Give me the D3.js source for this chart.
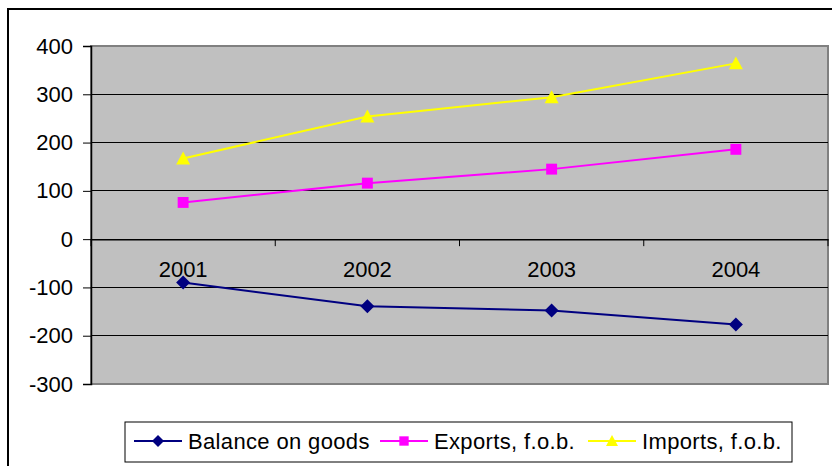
<!DOCTYPE html>
<html><head><meta charset="utf-8">
<script src="https://cdn.jsdelivr.net/npm/d3@7"></script>
<style>body{margin:0;background:#fff}svg{display:block}text{font-family:"Liberation Sans",Arial,sans-serif}</style>
</head><body>
<svg id="c" width="832" height="466"></svg>
<script>
const categories = ["2001","2002","2003","2004"];
const balance = [-90, -139, -148, -177];
const exports_ = [76, 116, 145, 186];
const imports_ = [167, 254, 294, 364];
const yTicks = [-300,-200,-100,0,100,200,300,400];
const seriesNames = ["Balance on goods","Exports, f.o.b.","Imports, f.o.b."];
const seriesColors = ["#000080","#FF00FF","#FFFF00"];
const seriesShapes = ["diamond","square","triangle"];
const series = [balance, exports_, imports_];

const svg = d3.select("#c");
svg.append("rect").attr("x",8).attr("y",9).attr("width",840).attr("height",480)
  .attr("fill","#fff").attr("stroke","#000").attr("stroke-width",2);

const L=91, T=46, R=828, B=384;
const x = d3.scaleBand().domain(categories).range([L,R]);
const y = d3.scaleLinear().domain([-300,400]).range([B,T]);

svg.append("rect").attr("x",L).attr("y",T).attr("width",R-L).attr("height",B-T)
  .attr("fill","#C0C0C0").attr("stroke","#808080").attr("stroke-width",2);

svg.append("g").selectAll("line").data(yTicks.filter(v=>v>-300&&v<400)).join("line")
  .attr("x1",L).attr("x2",R).attr("y1",d=>y(d)).attr("y2",d=>y(d))
  .attr("stroke","#000").attr("stroke-width",1).attr("shape-rendering","crispEdges");

const ya = svg.append("g").attr("transform",`translate(${L},0)`)
  .call(d3.axisLeft(y).tickValues(yTicks).tickFormat(d=>String(d)).tickSize(8).tickPadding(10));
ya.select(".domain").attr("stroke","#000").attr("stroke-width",1.5);
ya.selectAll(".tick line").attr("stroke","#000");
ya.selectAll("text").attr("font-size",22).attr("fill","#000")
  .attr("font-family","'Liberation Sans',Arial,sans-serif");

const xa = svg.append("g").attr("transform",`translate(0,${y(0)})`)
  .call(d3.axisBottom(x).tickSize(0).tickPadding(22));
xa.select(".domain").attr("stroke","#000").attr("stroke-width",1.5);
xa.selectAll("text").attr("font-size",22).attr("fill","#000")
  .attr("font-family","'Liberation Sans',Arial,sans-serif");
const bounds = categories.map(c=>x(c)).concat([R]);
svg.append("g").selectAll("line").data(bounds).join("line")
  .attr("x1",d=>d).attr("x2",d=>d).attr("y1",y(0)).attr("y2",y(0)+7)
  .attr("stroke","#000").attr("stroke-width",1);

const cx = c => x(c)+x.bandwidth()/2;
function marker(shape, s){
  if(shape==="diamond") return `M0,${-s}L${s},0L0,${s}L${-s},0Z`;
  if(shape==="square") return `M${-s*0.78},${-s*0.78}H${s*0.78}V${s*0.78}H${-s*0.78}Z`;
  return `M0,${-s}L${s},${s*0.85}L${-s},${s*0.85}Z`;
}

series.forEach((vals,i)=>{
  const line = d3.line().x((d,j)=>cx(categories[j])).y(d=>y(d));
  svg.append("path").datum(vals).attr("d",line).attr("fill","none")
    .attr("stroke",seriesColors[i]).attr("stroke-width",2);
  svg.append("g").selectAll("path").data(vals).join("path")
    .attr("transform",(d,j)=>`translate(${cx(categories[j])},${y(d)})`)
    .attr("d",marker(seriesShapes[i],7))
    .attr("fill",seriesColors[i]);
});

const lg = svg.append("g");
lg.append("rect").attr("x",125).attr("y",422).attr("width",667).attr("height",40)
  .attr("fill","#fff").attr("stroke","#000").attr("stroke-width",1);
const lx = [188, 434, 642];
seriesNames.forEach((n,i)=>{
  const g = lg.append("g").attr("transform",`translate(${lx[i]},441)`);
  g.append("line").attr("x1",-54).attr("x2",-6).attr("stroke",seriesColors[i]).attr("stroke-width",2);
  g.append("path").attr("transform","translate(-30,0)")
    .attr("d",marker(seriesShapes[i],6)).attr("fill",seriesColors[i]);
  g.append("text").attr("x",0).attr("y",8).attr("font-size",22).attr("letter-spacing",0.35)
    .attr("fill","#000").text(n);
});
</script>
</body></html>
